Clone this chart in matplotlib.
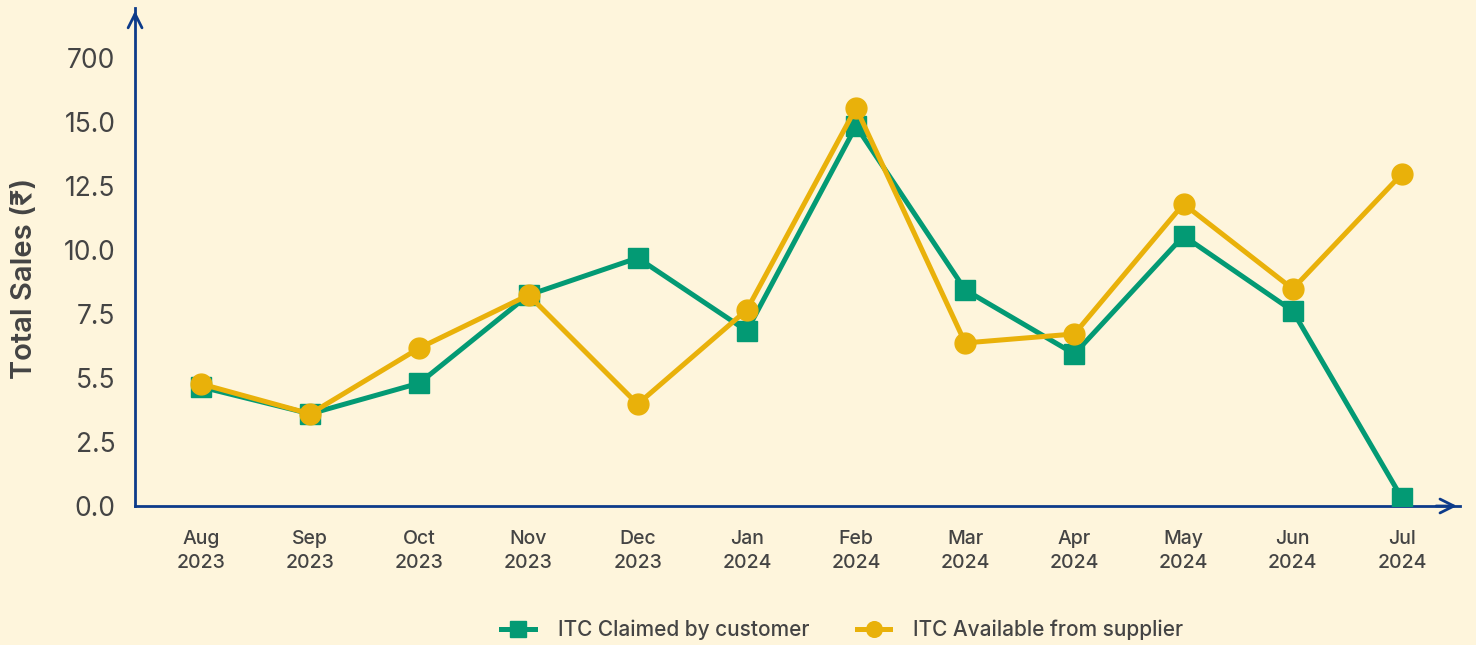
import matplotlib.pyplot as plt

# Dados
meses = ['Aug\n2023', 'Sep\n2023', 'Oct\n2023', 'Nov\n2023', 'Dec\n2023', 'Jan\n2024',
         'Feb\n2024', 'Mar\n2024', 'Apr\n2024', 'May\n2024', 'Jun\n2024', 'Jul\n2024']
itc_claimed = [4.65, 3.6, 4.8, 8.24, 9.69, 6.84, 14.84, 8.44, 5.94, 10.55, 7.62, 0.31]
itc_available = [4.77, 3.6, 6.17, 8.24, 3.98, 7.66, 15.55, 6.37, 6.72, 11.8, 8.48, 12.97]
y_ticks = [0, 2.5, 5, 7.5, 10, 12.5, 15, 17.5]
y_labels = ['0.0', '2.5', '5.5', '7.5', '10.0', '12.5', '15.0', '700']

bg = '#FEF5DC'
verde = '#039A74'
amarelo = '#E9B10A'
azul = '#0D3B8A'
cinza = '#444444'

plt.rcParams['font.family'] = ['Inter', 'DejaVu Sans']

fig = plt.figure(figsize=(14.76, 6.45), dpi=100, facecolor=bg)
ax = fig.add_axes([0.0915, 0.2155, 0.8975, 0.772])
ax.set_facecolor(bg)

x = list(range(len(meses)))
ax.plot(x, itc_claimed, color=verde, lw=3.6, marker='s', markersize=15,
        label='ITC Claimed by customer', zorder=3)
ax.plot(x, itc_available, color=amarelo, lw=3.6, marker='o', markersize=15,
        label='ITC Available from supplier', zorder=4)

ax.set_xlim(-0.604, 11.53)
ax.set_ylim(0, 19.45)
ax.set_xticks(x)
ax.set_xticklabels(meses, fontsize=14, color=cinza, linespacing=1.45, fontweight='medium')
ax.set_yticks(y_ticks)
ax.set_yticklabels(y_labels, fontsize=19, color=cinza)
ax.tick_params(axis='x', length=0, pad=17)
ax.tick_params(axis='y', length=0, pad=14)
fig.text(25 / 1476, 1 - 278 / 645, 'Total Sales (₹)', rotation=90, ha='center', va='center',
         fontsize=21, color=cinza, fontweight='semibold')

for lado in ['top', 'right']:
    ax.spines[lado].set_visible(False)
for lado in ['left', 'bottom']:
    ax.spines[lado].set_color(azul)
    ax.spines[lado].set_linewidth(2)

# Setas nas pontas dos eixos
seta = dict(arrowstyle='->', color=azul, lw=2, mutation_scale=25)
ax.annotate('', xy=(1.0, 0), xytext=(0.98, 0), xycoords='axes fraction', arrowprops=seta)
ax.annotate('', xy=(0, 1.0), xytext=(0, 0.97), xycoords='axes fraction', arrowprops=seta)

ax.legend(loc='center', bbox_to_anchor=(0.534, -0.249), ncol=2, frameon=False,
          prop={'size': 15, 'weight': 'medium'}, labelcolor=cinza, handlelength=1.6,
          handletextpad=1.1, columnspacing=2.3, markerscale=0.75)

plt.savefig('out.png', facecolor=bg)
plt.close()
